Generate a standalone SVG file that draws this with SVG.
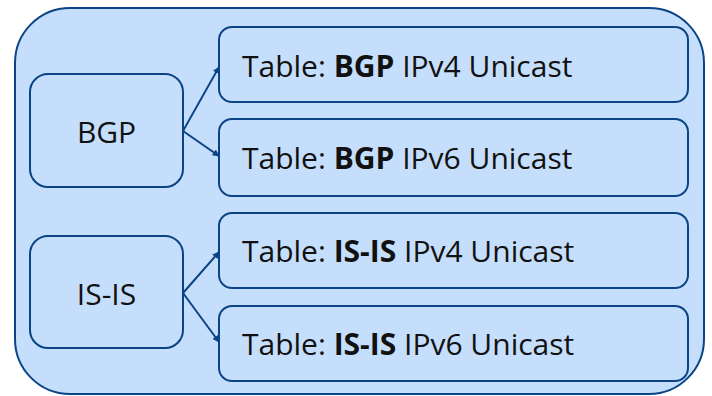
<svg xmlns="http://www.w3.org/2000/svg" width="712" height="396" viewBox="0 0 712 396">
<style>
.box{fill:#c5defb;stroke:#0b4486;stroke-width:2}
.t{font-family:"Open Sans","Liberation Sans",sans-serif;font-size:30px;fill:#111}
.b{font-weight:bold}
.c{stroke:#0b4486;stroke-width:2;fill:none;marker-end:url(#ah)}
</style>
<defs>
<marker id="ah" viewBox="0 0 10 10" refX="9" refY="5" markerWidth="7" markerHeight="7" markerUnits="userSpaceOnUse" orient="auto">
<path d="M0,0 L10,5 L0,10 Z" fill="#0b4486"/>
</marker>
</defs>
<g id="outer"><rect class="box" x="15" y="8" width="689" height="386" rx="55"/></g>
<g id="bgp"><rect class="box" x="30" y="74" width="153" height="113" rx="18"/><text class="t" x="106.5" y="143" text-anchor="middle">BGP</text></g>
<g id="isis"><rect class="box" x="30" y="236" width="153" height="112" rx="18"/><text class="t" x="106.5" y="305" text-anchor="middle">IS-IS</text></g>
<g id="t1"><rect class="box" x="219" y="27" width="469" height="75" rx="13"/><text class="t" x="242" y="77">Table: <tspan class="b">BGP</tspan> IPv4 Unicast</text></g>
<g id="t2"><rect class="box" x="219" y="119" width="469" height="77" rx="13"/><text class="t" x="242" y="169">Table: <tspan class="b">BGP</tspan> IPv6 Unicast</text></g>
<g id="t3"><rect class="box" x="219" y="213" width="469" height="75" rx="13"/><text class="t" x="242" y="262">Table: <tspan class="b">IS-IS</tspan> IPv4 Unicast</text></g>
<g id="t4"><rect class="box" x="219" y="306" width="469" height="75" rx="13"/><text class="t" x="242" y="355">Table: <tspan class="b">IS-IS</tspan> IPv6 Unicast</text></g>
<g id="connectors">
<line class="c" x1="183" y1="131" x2="219" y2="67"/>
<line class="c" x1="183" y1="131" x2="219" y2="156"/>
<line class="c" x1="183" y1="293" x2="219" y2="252"/>
<line class="c" x1="183" y1="293" x2="219" y2="342"/>
</g>
</svg>
